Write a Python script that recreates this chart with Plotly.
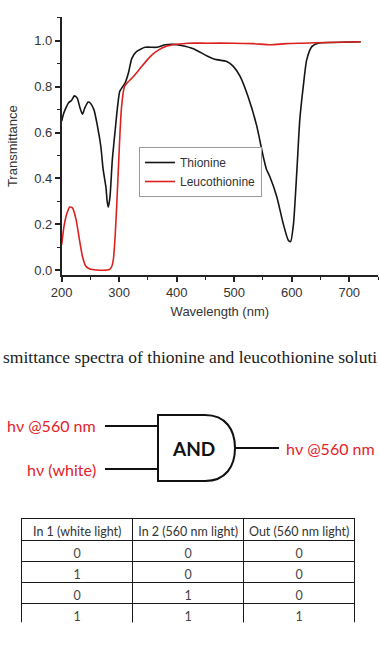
import plotly.graph_objects as go

# ---------------- data ----------------
thionine_wl = [200, 203, 206, 212, 217, 222, 227, 232, 236, 240, 246, 250, 256, 262, 268, 272, 277, 279, 281,
               284, 288, 293, 297, 301, 306, 310, 316, 322, 330, 345, 365, 380, 394, 408, 429, 452, 466, 487,
               498, 510, 524, 539, 550, 556, 562, 574, 585, 594, 598, 603, 609, 614, 620, 626, 635, 646, 672,
               720]
thionine_T = [0.65, 0.68, 0.70, 0.73, 0.74, 0.76, 0.75, 0.706, 0.68, 0.706, 0.733, 0.728, 0.70, 0.63, 0.54,
              0.44, 0.36, 0.30, 0.274, 0.32, 0.48, 0.61, 0.71, 0.78, 0.80, 0.815, 0.86, 0.924, 0.953, 0.972,
              0.972, 0.983, 0.985, 0.98, 0.966, 0.935, 0.92, 0.91, 0.89, 0.846, 0.757, 0.63, 0.50, 0.44, 0.407,
              0.32, 0.204, 0.13, 0.124, 0.2, 0.437, 0.655, 0.80, 0.917, 0.975, 0.99, 0.993, 0.996]

leuco_wl = [200, 204, 209, 214, 219, 225, 231, 236, 242, 249, 260, 283, 287, 290, 293, 296, 298.5, 301, 304,
            309, 315, 322, 330, 339, 348, 357, 368, 380, 400, 420, 452, 498, 533, 563, 590, 620, 660, 720]
leuco_T = [0.11, 0.19, 0.246, 0.275, 0.27, 0.22, 0.13, 0.06, 0.016, 0.004, 0.0, 0.002, 0.015, 0.05, 0.15,
           0.30, 0.44, 0.58, 0.71, 0.80, 0.82, 0.837, 0.86, 0.888, 0.915, 0.939, 0.96, 0.975, 0.985, 0.99,
           0.99, 0.99, 0.988, 0.983, 0.988, 0.99, 0.993, 0.996]

series_names = ["Thionine", "Leucothionine"]

caption_text = "smittance spectra of thionine and leucothionine soluti"
gate_label = "AND"
input_labels = ["hν @560 nm", "hν (white)"]
output_label = "hν @560 nm"

table_header = ["In 1 (white light)", "In 2 (560 nm light)", "Out (560 nm light)"]
in1_white = [0, 1, 0, 1]
in2_560 = [0, 0, 1, 1]
out_560 = [0, 0, 0, 1]

# ---------------- layout helpers ----------------
W, H = 379, 658


def px(x):
    return x / W


def py(y):
    return 1 - y / H


RED = "#e3222a"
fig = go.Figure()

fig.add_trace(go.Scatter(x=thionine_wl, y=thionine_T, mode="lines", name=series_names[0],
                         line=dict(color="#151515", width=1.6, shape="spline", smoothing=0.6)))
fig.add_trace(go.Scatter(x=leuco_wl, y=leuco_T, mode="lines", name=series_names[1],
                         line=dict(color="#dc2020", width=1.6, shape="spline", smoothing=0.6)))

axis_font = dict(family="Liberation Sans, Arial", size=13, color="#333333")
fig.update_xaxes(domain=[px(61.7), px(378)], range=[200, 750], dtick=100, tick0=200,
                 showline=True, linecolor="#222222", linewidth=1.5, ticks="outside", ticklen=5,
                 tickwidth=1.5, tickcolor="#222222", showgrid=False, zeroline=False, automargin=False,
                 minor=dict(ticks="outside", ticklen=3, dtick=50, tickcolor="#222222", tickwidth=1.2),
                 tickfont=axis_font, title=dict(text="Wavelength (nm)", font=axis_font, standoff=8),
                 anchor="y", fixedrange=True)
fig.update_yaxes(domain=[py(275), py(17.3)], range=[-0.022, 1.103], dtick=0.2, tick0=0, tickformat=".1f",
                 showline=True, linecolor="#222222", linewidth=1.5, ticks="outside", ticklen=5,
                 tickwidth=1.5, tickcolor="#222222", showgrid=False, zeroline=False, automargin=False,
                 minor=dict(ticks="outside", ticklen=3, dtick=0.1, tickcolor="#222222", tickwidth=1.2),
                 tickfont=axis_font, title=dict(text="Transmittance", font=axis_font, standoff=14),
                 anchor="x", fixedrange=True)

# ---------------- truth table ----------------
NBSP = "\u00a0"
fig.add_trace(go.Table(
    domain=dict(x=[px(21.7), px(355)], y=[py(623.3), py(518.3)]),
    columnwidth=[1, 1, 1],
    header=dict(values=[h.replace(" ", NBSP) for h in table_header], height=22, align="center",
                fill_color="white", line=dict(color="#1a1a1a", width=1.5),
                font=dict(family="Lato, Open Sans", size=12.5, color="#333333")),
    cells=dict(values=[in1_white, in2_560, out_560], height=21, align="center",
               fill_color="white", line=dict(color="#1a1a1a", width=1.5),
               font=dict(family="Lato, Open Sans", size=12.5, color="#444444")),
))

# ---------------- AND gate diagram ----------------
shapes = []
gate_path = (f"M {px(158)},{py(415)} L {px(205)},{py(415)} "
             f"C {px(226)},{py(415)} {px(235)},{py(430)} {px(235)},{py(448)} "
             f"C {px(235)},{py(466)} {px(226)},{py(481)} {px(205)},{py(481)} "
             f"L {px(158)},{py(481)} Z")
shapes.append(dict(type="path", xref="paper", yref="paper", path=gate_path,
                   line=dict(color="#111111", width=2), fillcolor="white"))
for yy in (426, 469):
    shapes.append(dict(type="line", xref="paper", yref="paper", x0=px(105), x1=px(158), y0=py(yy), y1=py(yy),
                       line=dict(color="#111111", width=1.8)))
shapes.append(dict(type="line", xref="paper", yref="paper", x0=px(235), x1=px(279), y0=py(448), y1=py(448),
                   line=dict(color="#111111", width=1.8)))

label_font = dict(family="Lato, Open Sans", size=16, color=RED)
annotations = [
    dict(text=caption_text, x=px(189.5), y=py(357), xref="paper", yref="paper", xanchor="center",
         yanchor="middle", showarrow=False,
         font=dict(family="Liberation Serif, Times New Roman", size=17.5, color="#1a1a1a")),
    dict(text=input_labels[0], x=px(98), y=py(426), xref="paper", yref="paper", xanchor="right",
         yanchor="middle", showarrow=False, font=label_font),
    dict(text=input_labels[1], x=px(98), y=py(469), xref="paper", yref="paper", xanchor="right",
         yanchor="middle", showarrow=False, font=label_font),
    dict(text=output_label, x=px(284), y=py(448), xref="paper", yref="paper", xanchor="left",
         yanchor="middle", showarrow=False, font=label_font),
    dict(text="<b>" + gate_label + "</b>", x=px(193), y=py(448), xref="paper", yref="paper",
         xanchor="center", yanchor="middle", showarrow=False,
         font=dict(family="Lato, Open Sans", size=19, color="#111111")),
]

fig.update_layout(
    width=W, height=H, margin=dict(l=0, r=0, t=0, b=0, autoexpand=False), autosize=False,
    paper_bgcolor="white", plot_bgcolor="white",
    shapes=shapes, annotations=annotations,
    legend=dict(x=px(139), y=py(147), xanchor="left", yanchor="top", bgcolor="white",
                bordercolor="#9a9a9a", borderwidth=1,
                font=dict(family="Liberation Sans, Arial", size=12, color="#333333"),
                itemwidth=30, tracegroupgap=0),
    showlegend=True,
)

fig.write_html("out.html", config=dict(displayModeBar=False))
